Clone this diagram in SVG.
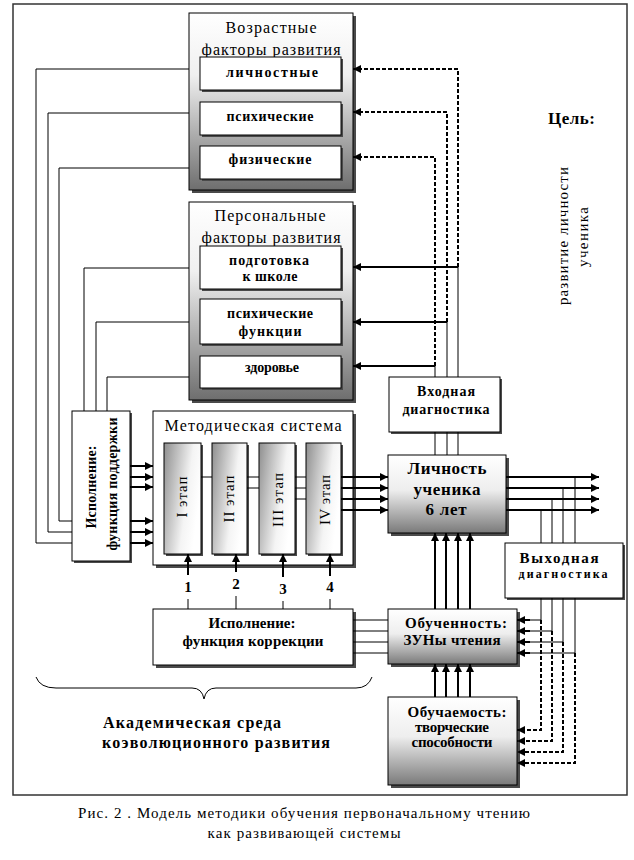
<svg xmlns="http://www.w3.org/2000/svg" width="634" height="860" viewBox="0 0 634 860">
<defs>
<linearGradient id="gv" x1="0" y1="0" x2="0" y2="1"><stop offset="0" stop-color="#ffffff"/><stop offset="0.35" stop-color="#f0f0f0"/><stop offset="1" stop-color="#6e6e6e"/></linearGradient>
<linearGradient id="gl" x1="0" y1="0" x2="0" y2="1"><stop offset="0" stop-color="#ffffff"/><stop offset="0.45" stop-color="#eeeeee"/><stop offset="1" stop-color="#7a7a7a"/></linearGradient>
<linearGradient id="gs" x1="0" y1="0" x2="1" y2="0.4"><stop offset="0" stop-color="#8e8e8e"/><stop offset="0.7" stop-color="#f4f4f4"/><stop offset="1" stop-color="#ffffff"/></linearGradient>
<marker id="ah" markerWidth="8" markerHeight="8" refX="8" refY="4" orient="auto" markerUnits="userSpaceOnUse"><path d="M0,0 L8,4 L0,8 z" fill="#000"/></marker>
</defs>
<style>
.ln{stroke:#000;stroke-width:1;fill:none}
.ar{stroke:#000;stroke-width:2;fill:none;marker-end:url(#ah)}
.da{stroke-dasharray:4 2}
.box{stroke:#000;stroke-width:1}
.sh{fill:#4a4a4a}
.t{font-family:"Liberation Serif","Times New Roman",serif;fill:#000}
.b{font-weight:bold}
.r16{font-size:16px}
.b13{font-size:14px;font-weight:bold}
.b15{font-size:15px;font-weight:bold}
.st{font-size:15px}
</style>
<rect x="0" y="0" width="634" height="860" fill="#fff"/>
<rect id="frame" x="13" y="4" width="614" height="791" fill="none" stroke="#333" stroke-width="1.5"/>

<g id="vozrast">
<rect class="sh" x="192" y="16" width="164" height="177"/>
<rect class="box" x="189" y="13" width="164" height="177" fill="url(#gv)"/>
<text class="t r16" x="271" y="33" text-anchor="middle" textLength="91" lengthAdjust="spacing">Возрастные</text>
<text class="t r16" x="271" y="55" text-anchor="middle" textLength="139" lengthAdjust="spacing">факторы развития</text>
<rect class="sh" x="202" y="59" width="141" height="33"/>
<rect class="box" x="200" y="57" width="141" height="33" fill="#fff"/>
<text class="t b13" x="272" y="77" text-anchor="middle" textLength="92" lengthAdjust="spacing">личностные</text>
<rect class="sh" x="202" y="104" width="141" height="33"/>
<rect class="box" x="200" y="102" width="141" height="33" fill="#fff"/>
<text class="t b13" x="270" y="121" text-anchor="middle" textLength="87" lengthAdjust="spacing">психические</text>
<rect class="sh" x="202" y="148" width="141" height="33"/>
<rect class="box" x="200" y="146" width="141" height="33" fill="#fff"/>
<text class="t b13" x="270" y="164" text-anchor="middle" textLength="83" lengthAdjust="spacing">физические</text>
</g>

<g id="personal">
<rect class="sh" x="192" y="205" width="164" height="198"/>
<rect class="box" x="189" y="202" width="164" height="198" fill="url(#gv)"/>
<text class="t r16" x="270" y="221" text-anchor="middle" textLength="111" lengthAdjust="spacing">Персональные</text>
<text class="t r16" x="271" y="243" text-anchor="middle" textLength="139" lengthAdjust="spacing">факторы развития</text>
<rect class="sh" x="202" y="248" width="141" height="43"/>
<rect class="box" x="200" y="246" width="141" height="43" fill="#fff"/>
<text class="t b13" x="269" y="265" text-anchor="middle" textLength="80" lengthAdjust="spacing">подготовка</text>
<text class="t b13" x="270" y="281" text-anchor="middle" textLength="55" lengthAdjust="spacing">к школе</text>
<rect class="sh" x="202" y="301" width="141" height="45"/>
<rect class="box" x="200" y="299" width="141" height="45" fill="#fff"/>
<text class="t b13" x="270" y="318" text-anchor="middle" textLength="86" lengthAdjust="spacing">психические</text>
<text class="t b13" x="270" y="336" text-anchor="middle" textLength="63" lengthAdjust="spacing">функции</text>
<rect class="sh" x="202" y="358" width="141" height="32"/>
<rect class="box" x="200" y="356" width="141" height="32" fill="#fff"/>
<text class="t b13" x="272" y="372" text-anchor="middle" textLength="54" lengthAdjust="spacing">здоровье</text>
</g>

<g id="goal">
<text class="t b" font-size="17" x="548" y="124" textLength="47" lengthAdjust="spacing">Цель:</text>
<text class="t" font-size="15" transform="translate(568,236) rotate(-90)" text-anchor="middle" textLength="138" lengthAdjust="spacing">развитие личности</text>
<text class="t" font-size="15" transform="translate(588,237) rotate(-90)" text-anchor="middle" textLength="60" lengthAdjust="spacing">ученика</text>
</g>

<g id="support">
<rect class="sh" x="74" y="413" width="58" height="150"/>
<rect class="box" x="72" y="411" width="58" height="150" fill="#fff"/>
<text class="t b" font-size="14" transform="translate(96,487) rotate(-90)" text-anchor="middle" textLength="83" lengthAdjust="spacing">Исполнение:</text>
<text class="t b" font-size="14" transform="translate(117,484) rotate(-90)" text-anchor="middle" textLength="133" lengthAdjust="spacing">функция поддержки</text>
</g>

<g id="method">
<rect class="sh" x="156" y="414" width="200" height="154"/>
<rect class="box" x="153" y="411" width="200" height="154" fill="#fff"/>
<text class="t r16" x="253" y="431" text-anchor="middle" textLength="177" lengthAdjust="spacing">Методическая система</text>
<rect class="sh" x="166" y="445" width="37" height="111"/>
<rect class="box" x="164" y="443" width="37" height="111" fill="url(#gs)"/>
<text class="t st" transform="translate(187,497) rotate(-90)" text-anchor="middle" textLength="41" lengthAdjust="spacing">I этап</text>
<rect class="sh" x="214" y="445" width="35" height="111"/>
<rect class="box" x="212" y="443" width="35" height="111" fill="url(#gs)"/>
<text class="t st" transform="translate(234,499) rotate(-90)" text-anchor="middle" textLength="47" lengthAdjust="spacing">II этап</text>
<rect class="sh" x="261" y="445" width="36" height="111"/>
<rect class="box" x="259" y="443" width="36" height="111" fill="url(#gs)"/>
<text class="t st" transform="translate(283,500) rotate(-90)" text-anchor="middle" textLength="54" lengthAdjust="spacing">III этап</text>
<rect class="sh" x="308" y="445" width="35" height="111"/>
<rect class="box" x="306" y="443" width="35" height="111" fill="url(#gs)"/>
<text class="t st" transform="translate(330,500) rotate(-90)" text-anchor="middle" textLength="50" lengthAdjust="spacing">IV этап</text>
</g>

<g id="numbers">
<text class="t b15" x="188" y="592" text-anchor="middle">1</text>
<text class="t b15" x="236" y="589" text-anchor="middle">2</text>
<text class="t b15" x="283" y="594" text-anchor="middle">3</text>
<text class="t b15" x="330" y="592" text-anchor="middle">4</text>
</g>

<g id="vkhod">
<rect class="sh" x="391" y="379" width="111" height="55"/>
<rect class="box" x="389" y="377" width="111" height="55" fill="#fff"/>
<text class="t b13" x="446" y="396" text-anchor="middle" textLength="58" lengthAdjust="spacing">Входная</text>
<text class="t b13" x="446" y="414" text-anchor="middle" textLength="87" lengthAdjust="spacing">диагностика</text>
</g>

<g id="lichnost">
<rect class="sh" x="391" y="458" width="118" height="78"/>
<rect class="box" x="388" y="455" width="118" height="78" fill="url(#gl)"/>
<text class="t b" font-size="17" x="447" y="474" text-anchor="middle" textLength="79" lengthAdjust="spacing" fill="#222">Личность</text>
<text class="t b" font-size="17" x="447" y="495" text-anchor="middle" textLength="67" lengthAdjust="spacing" fill="#222">ученика</text>
<text class="t b" font-size="17" x="446" y="515" text-anchor="middle" textLength="41" lengthAdjust="spacing" fill="#222">6 лет</text>
</g>

<g id="vykhod">
<rect class="sh" x="507" y="545" width="118" height="55"/>
<rect class="box" x="505" y="543" width="118" height="55" fill="#fff"/>
<text class="t b" font-size="15" x="559" y="563" text-anchor="middle" textLength="79" lengthAdjust="spacing">Выходная</text>
<text class="t b" font-size="12" x="563" y="578" text-anchor="middle" textLength="89" lengthAdjust="spacing">диагностика</text>
</g>

<g id="korr">
<rect class="sh" x="156" y="612" width="200" height="56"/>
<rect class="box" x="153" y="609" width="200" height="56" fill="#fff"/>
<text class="t b15" x="252" y="628" text-anchor="middle" textLength="87" lengthAdjust="spacing">Исполнение:</text>
<text class="t b15" x="253" y="646" text-anchor="middle" textLength="141" lengthAdjust="spacing">функция коррекции</text>
</g>

<g id="obuchennost">
<rect class="sh" x="391" y="612" width="129" height="55"/>
<rect class="box" x="388" y="609" width="129" height="55" fill="url(#gl)"/>
<text class="t b15" x="456" y="628" text-anchor="middle" textLength="102" lengthAdjust="spacing">Обученность:</text>
<text class="t b15" x="452" y="645" text-anchor="middle" textLength="97" lengthAdjust="spacing">ЗУНы чтения</text>
</g>

<g id="obuchaemost">
<rect class="sh" x="391" y="700" width="129" height="88"/>
<rect class="box" x="388" y="697" width="129" height="88" fill="url(#gl)"/>
<text class="t b15" x="457" y="717" text-anchor="middle" textLength="99" lengthAdjust="spacing">Обучаемость:</text>
<text class="t b15" x="452" y="732" text-anchor="middle" textLength="74" lengthAdjust="spacing">творческие</text>
<text class="t b15" x="452" y="747" text-anchor="middle" textLength="81" lengthAdjust="spacing">способности</text>
</g>

<g id="academic">
<path class="ln" d="M36,677 Q40,688 56,688 L192,688 Q202,688 204,699 Q206,688 216,688 L356,688 Q368,688 372,677"/>
<text class="t b" font-size="16" x="103" y="728" textLength="178" lengthAdjust="spacing">Академическая среда</text>
<text class="t b" font-size="16" x="102" y="748" textLength="228" lengthAdjust="spacing">коэволюционного развития</text>
</g>

<g id="caption">
<text class="t" font-size="15" x="78" y="818" textLength="452" lengthAdjust="spacing">Рис. 2 . Модель методики обучения первоначальному чтению</text>
<text class="t" font-size="15" x="304" y="838" text-anchor="middle" textLength="193" lengthAdjust="spacing">как развивающей системы</text>
</g>

<g id="connectors">
<polyline class="ln" points="189,69 36,69 36,543 72,543"/>
<polyline class="ln" points="189,113 48,113 48,532 72,532"/>
<polyline class="ln" points="189,168 59,168 59,521 72,521"/>
<polyline class="ln" points="189,268 84,268 84,411"/>
<polyline class="ln" points="189,322 96,322 96,411"/>
<polyline class="ln" points="189,377 107,377 107,411"/>
<line class="ar" x1="130" y1="466" x2="153" y2="466"/>
<line class="ar" x1="130" y1="477" x2="153" y2="477"/>
<line class="ar" x1="130" y1="487" x2="153" y2="487"/>
<line class="ar" x1="130" y1="521" x2="153" y2="521"/>
<line class="ar" x1="130" y1="532" x2="153" y2="532"/>
<line class="ar" x1="130" y1="543" x2="153" y2="543"/>
<line class="ln" x1="201" y1="477" x2="212" y2="477"/>
<line class="ln" x1="247" y1="477" x2="259" y2="477"/>
<line class="ln" x1="247" y1="488" x2="259" y2="488"/>
<line class="ln" x1="295" y1="477" x2="306" y2="477"/>
<line class="ln" x1="295" y1="488" x2="306" y2="488"/>
<line class="ln" x1="295" y1="499" x2="306" y2="499"/>
<line class="ar" x1="341" y1="477" x2="388" y2="477"/>
<line class="ar" x1="341" y1="488" x2="388" y2="488"/>
<line class="ar" x1="341" y1="499" x2="388" y2="499"/>
<line class="ar" x1="341" y1="510" x2="388" y2="510"/>
<line class="ar" x1="506" y1="477" x2="599" y2="477"/>
<line class="ar" x1="506" y1="488" x2="599" y2="488"/>
<line class="ar" x1="506" y1="499" x2="599" y2="499"/>
<line class="ar" x1="506" y1="510" x2="599" y2="510"/>
<line class="ln" x1="575" y1="477" x2="575" y2="543"/>
<line class="ln" x1="563" y1="488" x2="563" y2="543"/>
<line class="ln" x1="552" y1="499" x2="552" y2="543"/>
<line class="ln" x1="541" y1="510" x2="541" y2="543"/>
<polyline class="ln" points="541,598 541,620 522,620"/>
<polyline class="ln" points="552,598 552,631 522,631"/>
<polyline class="ln" points="563,598 563,642 522,642"/>
<polyline class="ln" points="575,598 575,653 522,653"/>
<line class="ar" x1="530" y1="620" x2="517" y2="620"/>
<line class="ar" x1="530" y1="631" x2="517" y2="631"/>
<line class="ar" x1="530" y1="642" x2="517" y2="642"/>
<line class="ar" x1="530" y1="653" x2="517" y2="653"/>
<polyline class="ar da" points="541,620 541,730 517,730"/>
<polyline class="ar da" points="552,631 552,741 517,741"/>
<polyline class="ar da" points="563,642 563,752 517,752"/>
<polyline class="ar da" points="575,653 575,763 517,763"/>
<line class="ar" x1="435" y1="697" x2="435" y2="664"/>
<line class="ar" x1="446" y1="697" x2="446" y2="664"/>
<line class="ar" x1="458" y1="697" x2="458" y2="664"/>
<line class="ar" x1="470" y1="697" x2="470" y2="664"/>
<line class="ar" x1="435" y1="609" x2="435" y2="533"/>
<line class="ar" x1="446" y1="609" x2="446" y2="533"/>
<line class="ar" x1="458" y1="609" x2="458" y2="533"/>
<line class="ar" x1="470" y1="609" x2="470" y2="533"/>
<line class="ln" x1="353" y1="620" x2="388" y2="620"/>
<line class="ln" x1="353" y1="631" x2="388" y2="631"/>
<line class="ln" x1="353" y1="642" x2="388" y2="642"/>
<line class="ln" x1="353" y1="653" x2="388" y2="653"/>
<line class="ar" x1="188" y1="575" x2="188" y2="554"/>
<line class="ar" x1="236" y1="572" x2="236" y2="554"/>
<line class="ar" x1="283" y1="577" x2="283" y2="554"/>
<line class="ar" x1="330" y1="576" x2="330" y2="554"/>
<line class="ln" x1="188" y1="599" x2="188" y2="609" stroke-width="2"/>
<line class="ln" x1="236" y1="596" x2="236" y2="609" stroke-width="2"/>
<line class="ln" x1="283" y1="601" x2="283" y2="609" stroke-width="2"/>
<line class="ln" x1="330" y1="599" x2="330" y2="609" stroke-width="2"/>
<line class="ln" x1="435" y1="432" x2="435" y2="455"/>
<line class="ln" x1="447" y1="432" x2="447" y2="455"/>
<line class="ln" x1="458" y1="432" x2="458" y2="455"/>
<line class="ln" x1="458" y1="377" x2="458" y2="267"/>
<line class="ln" x1="447" y1="377" x2="447" y2="322"/>
<line class="ln" x1="435" y1="377" x2="435" y2="366"/>
<line class="ar" x1="458" y1="267" x2="353" y2="267"/>
<line class="ar" x1="447" y1="322" x2="353" y2="322"/>
<line class="ar" x1="435" y1="366" x2="353" y2="366"/>
<polyline class="ar da" points="458,267 458,69 353,69"/>
<polyline class="ar da" points="447,322 447,112 353,112"/>
<polyline class="ar da" points="435,366 435,157 353,157"/>
</g>
</svg>
